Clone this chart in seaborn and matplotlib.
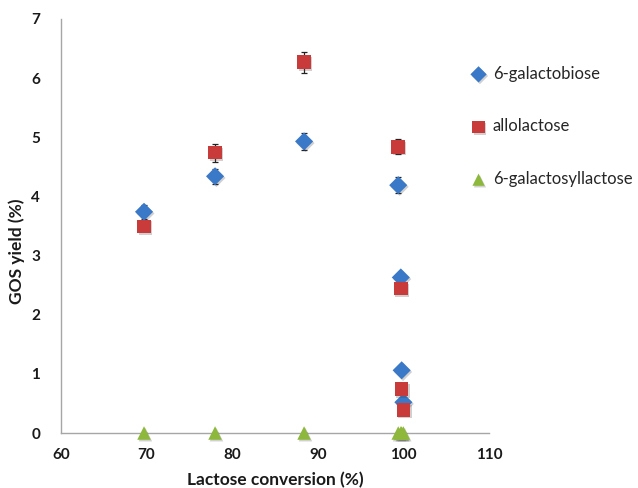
import pandas as pd
import matplotlib
matplotlib.use("Agg")
import matplotlib.pyplot as plt
import matplotlib.patheffects as pe
import seaborn as sns

# Values
conversion = [69.7, 78.0, 88.4, 99.4, 99.7, 99.8, 100.0]
galactobiose = [3.74, 4.34, 4.93, 4.19, 2.63, 1.06, 0.52]
galactobiose_err = [0.12, 0.13, 0.14, 0.13, 0.05, 0.05, 0.05]
allolactose = [3.49, 4.74, 6.27, 4.84, 2.44, 0.74, 0.39]
allolactose_err = [0.06, 0.15, 0.18, 0.13, 0.05, 0.05, 0.05]
galactosyllactose = [0.0, 0.0, 0.0, 0.0, 0.0, 0.0, 0.0]
galactosyllactose_err = [0.0, 0.0, 0.0, 0.0, 0.0, 0.0, 0.0]

series_names = ["6-galactobiose", "allolactose", "6-galactosyllactose"]
x_ticks = [60, 70, 80, 90, 100, 110]
y_ticks = [0, 1, 2, 3, 4, 5, 6, 7]


def build_frame() -> pd.DataFrame:
    rows = []
    for name, values, errs in zip(
        series_names,
        [galactobiose, allolactose, galactosyllactose],
        [galactobiose_err, allolactose_err, galactosyllactose_err],
    ):
        for x, y, e in zip(conversion, values, errs):
            rows.append({"Conversion": x, "Yield": y, "Err": e, "Product": name})
    return pd.DataFrame(rows)


def plot(df: pd.DataFrame, output_path: str):
    sns.set_style("white")
    plt.rcParams["font.family"] = ["Lato", "DejaVu Sans"]

    fig = plt.figure(figsize=(6.38, 4.88), dpi=100)
    ax = fig.add_axes([0.0956, 0.1127, 0.6708, 0.8484])

    palette = {
        "6-galactobiose": "#3A78C8",
        "allolactose": "#C93A3A",
        "6-galactosyllactose": "#8DB83C",
    }
    markers = {"6-galactobiose": "D", "allolactose": "s", "6-galactosyllactose": "^"}
    sizes = {"6-galactobiose": 85, "allolactose": 95, "6-galactosyllactose": 95}

    # error bars behind the markers, only the caps poke out
    for name in series_names:
        sub = df[df["Product"] == name]
        ax.errorbar(
            sub["Conversion"], sub["Yield"], yerr=sub["Err"],
            fmt="none", ecolor="#222222", elinewidth=0.9, capsize=2.5,
            capthick=0.9, zorder=2,
        )

    for name in series_names:
        sub = df[df["Product"] == name]
        sns.scatterplot(
            data=sub, x="Conversion", y="Yield", ax=ax,
            color=palette[name], marker=markers[name], s=sizes[name],
            linewidth=0, label=name, zorder=3,
        )
    for coll in ax.collections[-3:]:
        coll.set_clip_on(False)
        coll.set_path_effects([
            pe.SimplePatchShadow(offset=(1, -1.2), shadow_rgbFace="#444444", alpha=0.25),
            pe.Normal(),
        ])

    ax.set_xlim(60, 110)
    ax.set_ylim(0, 7)
    ax.set_xticks(x_ticks)
    ax.set_yticks(y_ticks)
    ax.set_xticklabels([str(t) for t in x_ticks], fontsize=11, fontweight="bold")
    ax.set_yticklabels([str(t) for t in y_ticks], fontsize=11, fontweight="bold")
    ax.tick_params(axis="both", direction="out", length=5, width=1,
                   color="#A6A6A6", labelcolor="#1A1A1A")
    ax.tick_params(axis="x", pad=6)
    ax.tick_params(axis="y", pad=10)

    for side in ["top", "right"]:
        ax.spines[side].set_visible(False)
    for side in ["left", "bottom"]:
        ax.spines[side].set_color("#A6A6A6")
        ax.spines[side].set_linewidth(1)

    ax.set_xlabel("Lactose conversion (%)", fontsize=12.5, fontweight="bold",
                  color="#1A1A1A")
    ax.set_ylabel("GOS yield (%)", fontsize=12.5, fontweight="bold",
                  color="#1A1A1A")
    ax.xaxis.set_label_coords(0.5, -0.093)
    ax.yaxis.set_label_coords(-0.084, 0.44)

    ax.legend(
        loc="center left", bbox_to_anchor=(0.737, 0.741),
        bbox_transform=fig.transFigure, frameon=False, fontsize=12,
        borderpad=0, borderaxespad=0, handlelength=1.0, handletextpad=0.35,
        labelspacing=2.2, markerscale=0.9,
    )

    fig.savefig(output_path, dpi=100)
    plt.close(fig)


def main():
    df = build_frame()
    plot(df, "out.png")


if __name__ == "__main__":
    main()
